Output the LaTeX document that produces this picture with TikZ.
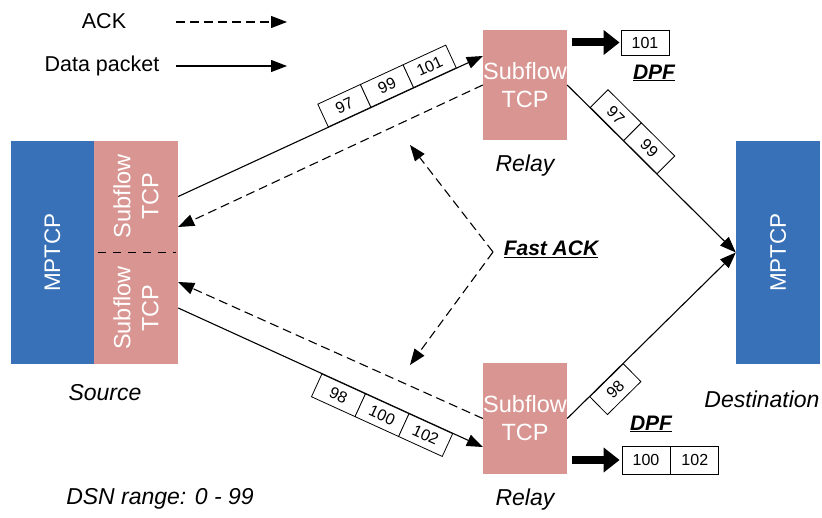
\documentclass[tikz,border=0pt]{standalone}
\usepackage{fontspec}
\setmainfont{Liberation Sans}
\usetikzlibrary{arrows.meta}
\definecolor{mpblue}{RGB}{56,113,184}
\definecolor{sfpink}{RGB}{217,149,145}
\tikzset{
  stack/.style={fill=mpblue, draw=none, minimum width=84pt, minimum height=223pt, inner sep=0pt},
  subbox/.style={fill=sfpink, draw=none, minimum width=84pt, inner sep=0pt,
    text=white, align=center, font=\fontsize{23.5}{28}\selectfont},
  wtext/.style={text=white, align=center, font=\fontsize{23.5}{28}\selectfont, inner sep=0pt},
  pkt/.style={draw, line width=0.8pt, fill=white, minimum width=47pt, minimum height=25pt,
    inner sep=0pt, font=\fontsize{16}{16}\selectfont},
  data/.style={line width=1.1pt, -{Triangle[length=16pt,width=12pt]}},
  ack/.style={data, dash pattern=on 9pt off 5pt},
  fat/.style={line width=8pt, -{Triangle[length=16pt,width=24pt]}},
  lbl/.style={font=\fontsize{23}{27}\selectfont\itshape, inner sep=0pt},
  plain/.style={font=\fontsize{21.5}{25}\selectfont, inner sep=0pt},
  dpf/.style={font=\fontsize{21}{25}\selectfont\bfseries\itshape, inner sep=0pt},
}
\begin{document}
\begin{tikzpicture}[x=1pt, y=-1pt]
\useasboundingbox (0,0) rectangle (822,518);

% legend
\node[plain] (lack) at (104,21) {ACK};
\coordinate (la1) at (176,22);
\coordinate (la2) at (287,22);
\draw[ack] (la1) -- (la2);
\node[plain] (ldata) at (102,66) {Data packet};
\coordinate (ld1) at (176,66);
\coordinate (ld2) at (287,66);
\draw[data] (ld1) -- (ld2);

% source
\node[stack] (srcm) at (52.5,252.5) {};
\node[wtext, rotate=90, font=\fontsize{22.5}{27}\selectfont] at (srcm) {MPTCP};
\node[subbox, minimum height=111.5pt] (su) at (136,196.5) {};
\node[subbox, minimum height=111.5pt] (sd) at (136,308) {};
\node[wtext, rotate=90] at (su) {Subflow\\TCP};
\node[wtext, rotate=90] at (sd) {Subflow\\TCP};
\draw[line width=1pt, dash pattern=on 8pt off 7pt] ([xshift=4pt]su.south west) -- ([xshift=-2pt]su.south east);
\node[lbl] (srclbl) at (105,393) {Source};
\node[lbl] (dsn) at (160,499) {DSN range: 0 - 99};

% relays
\node[subbox, minimum height=110pt] (r1) at (525,85) {Subflow\\TCP};
\node[subbox, minimum height=111pt] (r2) at (525,418.5) {Subflow\\TCP};
\node[lbl] (r1lbl) at (525,166) {Relay};
\node[lbl] (r2lbl) at (525,500) {Relay};

% destination
\node[stack] (dst) at (778,252.5) {};
\node[wtext, rotate=90, font=\fontsize{22.5}{27}\selectfont] at (dst) {MPTCP};
\node[lbl] (dstlbl) at (762,399) {Destination};

% source -> upper relay
\draw[data] (su.east) -- ([yshift=29pt]r1.west)
  node[pkt, sloped, pos=0.492, anchor=south west] (p97) {97}
  node[pkt, sloped, pos=0.632, anchor=south west] (p99) {99}
  node[pkt, sloped, pos=0.772, anchor=south west] (p101) {101};
\draw[ack] (r1.west) -- ([yshift=-30.5pt]su.east);

% source -> lower relay
\draw[data] (sd.east) -- ([yshift=-28.5pt]r2.west)
  node[pkt, sloped, pos=0.471, anchor=north west, minimum width=48pt] (p98) {98}
  node[pkt, sloped, pos=0.614, anchor=north west, minimum width=48pt] (p100) {100}
  node[pkt, sloped, pos=0.757, anchor=north west, minimum width=48pt] (p102) {102};
\draw[ack] (r2.west) -- ([yshift=26pt]sd.east);

% relays -> destination
\draw[data] (r1.east) -- (dst.west)
  node[pkt, sloped, pos=0.134, anchor=south west] (q97) {97}
  node[pkt, sloped, pos=0.332, anchor=south west] (q99) {99};
\draw[data] (r2.east) -- (dst.west)
  node[pkt, sloped, pos=0.131, anchor=north west] (q98) {98};

% fast ACK
\coordinate (fk) at (493,252);
\coordinate (fku) at (410,145);
\coordinate (fkd) at (410,365);
\draw[ack] (fk) -- (fku);
\draw[ack] (fk) -- (fkd);
\node[dpf] (fast) at (551,249) {\underline{Fast ACK}};

% delivered packets
\node[pkt, minimum width=48pt, minimum height=25pt] (d101) at (645,42.5) {101};
\draw[fat] ([xshift=5pt]d101.west -| r1.east) -- ([xshift=-1pt]d101.west);
\node[dpf] (dpf1) at (654,73) {\underline{DPF}};
\node[pkt, minimum width=48pt, minimum height=28pt] (d100) at (646,460) {100};
\node[pkt, minimum width=48pt, minimum height=28pt, anchor=west] (d102) at (d100.east) {102};
\draw[fat] ([xshift=5pt]d100.west -| r2.east) -- ([xshift=-2pt]d100.west);
\node[dpf] (dpf2) at (651,424) {\underline{DPF}};
\end{tikzpicture}
\end{document}
